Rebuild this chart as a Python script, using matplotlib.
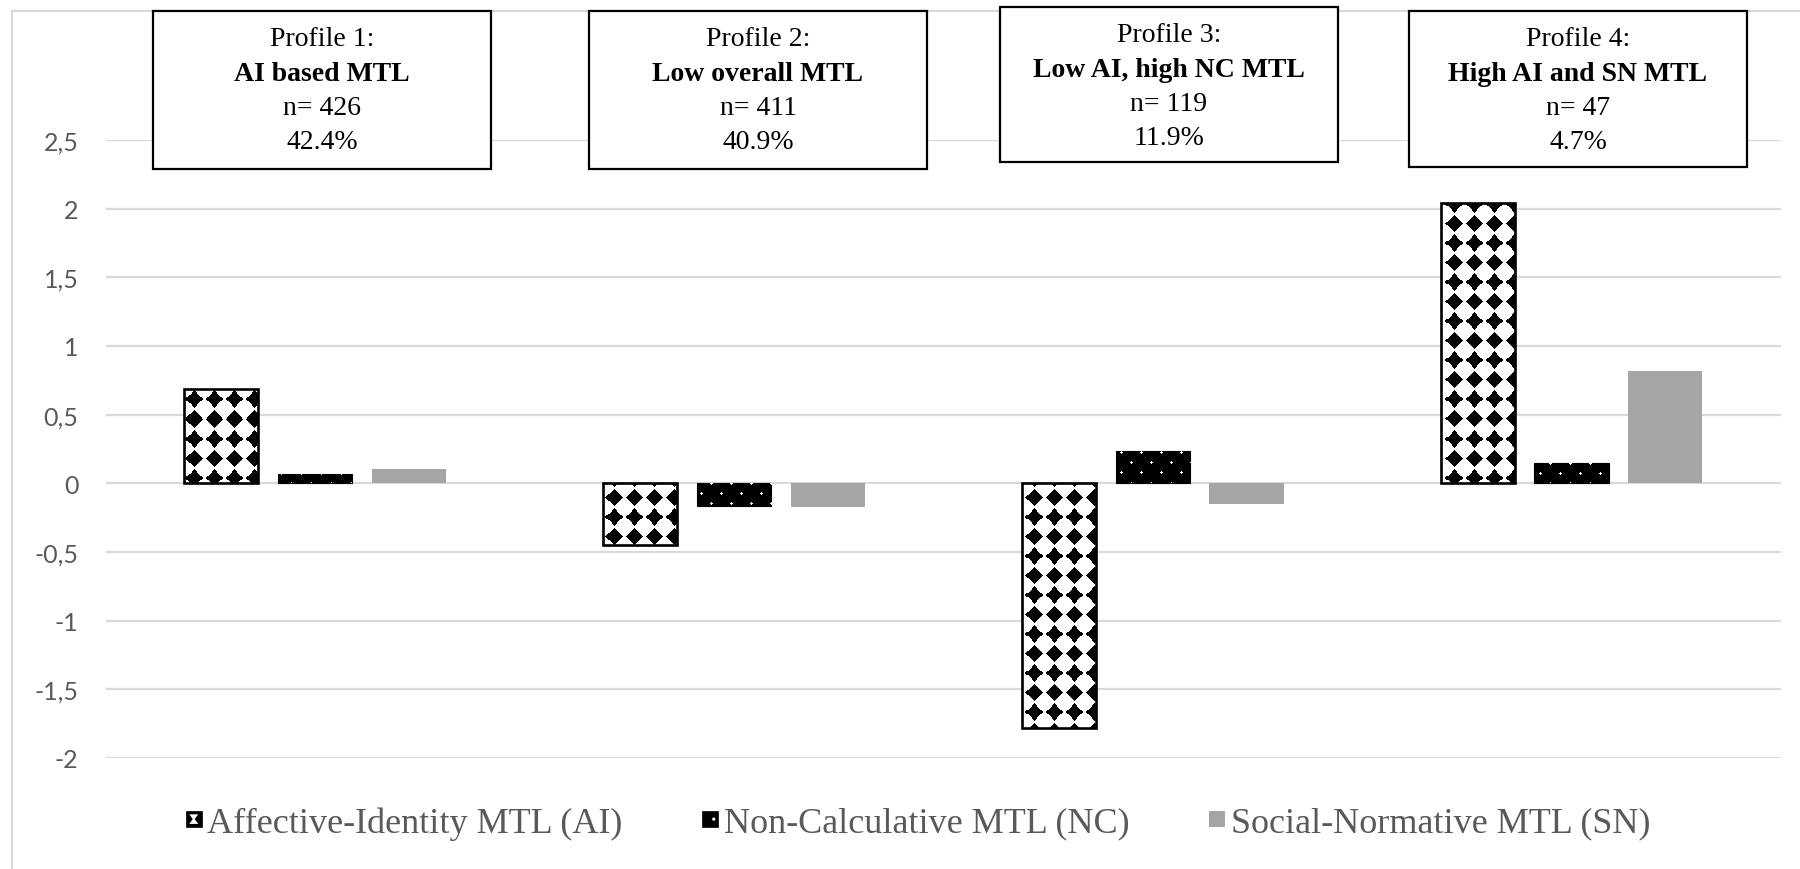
import numpy as np
import matplotlib
matplotlib.use("Agg")
import matplotlib.pyplot as plt
from matplotlib.patches import Rectangle, Polygon, Circle
from matplotlib.legend_handler import HandlerBase
from matplotlib.lines import Line2D
from matplotlib.font_manager import FontProperties

# ---------------- data ----------------
profiles = ["Profile 1", "Profile 2", "Profile 3", "Profile 4"]
ai_values = [0.69, -0.45, -1.78, 2.04]
nc_values = [0.065, -0.165, 0.235, 0.145]
sn_values = [0.105, -0.175, -0.15, 0.82]
series_labels = ["Affective-Identity MTL (AI)", "Non-Calculative MTL (NC)",
                 "Social-Normative MTL (SN)"]
box_titles = ["Profile 1:", "Profile 2:", "Profile 3:", "Profile 4:"]
box_names = ["AI based MTL", "Low overall MTL", "Low AI, high NC MTL", "High AI and SN MTL"]
box_n = ["n= 426", "n= 411", "n= 119", "n= 47"]
box_pct = ["42.4%", "40.9%", "11.9%", "4.7%"]
y_ticks = [-2, -1.5, -1, -0.5, 0, 0.5, 1, 1.5, 2, 2.5]
y_tick_labels = ["-2", "-1,5", "-1", "-0,5", "0", "0,5", "1", "1,5", "2", "2,5"]

# ---------------- layout ----------------
W, H = 1800, 870
fig = plt.figure(figsize=(W / 100, H / 100), dpi=100)
fig.patch.set_facecolor("white")


def fx(px):
    return px / W


def fy(py):
    return 1 - py / H


ax_left, ax_right = 105.5, 1781.0
ax_top, ax_bottom = 141.0, 759.0
ax = fig.add_axes([fx(ax_left), fy(ax_bottom), (ax_right - ax_left) / W,
                   (ax_bottom - ax_top) / H])
XLIM = (-0.5, 3.5)
YLIM = (-2, 2.5)

GRID = "#d9d9d9"
TXT = "#595959"
serif = ["Liberation Serif", "Times New Roman", "DejaVu Serif"]

x = np.arange(len(profiles))
bw = 0.177
off = 0.224

b_ai = ax.bar(x - off, ai_values, bw, facecolor="white", edgecolor="none", zorder=3)
b_nc = ax.bar(x, nc_values, bw, facecolor="black", edgecolor="black", linewidth=0.8, zorder=3)
b_sn = ax.bar(x + off, sn_values, bw, facecolor="#a5a5a5", edgecolor="none", zorder=3)

# ---------------- pattern textures ----------------
aw = int(round(ax_right - ax_left))
ah = int(round(ax_bottom - ax_top))
yy, xx = np.mgrid[0:ah, 0:aw].astype(float)

# AI: black four-point stars on white (white round holes between them)
px_, py_ = 20.0, 19.5
dx = np.abs(((xx - 8 + px_ / 2) % px_) - px_ / 2)
dy = np.abs(((yy - 6 + py_ / 2) % py_) - py_ / 2)
hole = np.hypot(px_ / 2 - dx, py_ / 2 - dy) < 8.3
star = (~hole) & ((dx + dy) < 8.6)
ai_tex = np.zeros((ah, aw, 4))
ai_tex[star] = (0, 0, 0, 1)

# NC: small white dots on black, staggered rows
ry = (yy - 3) / 10.0
ri = np.round(ry)
dyn = (ry - ri) * 10.0
shift = (ri % 2) * 10.0
rx = (xx - 5 - shift) / 20.0
dxn = (rx - np.round(rx)) * 20.0
dots = dxn ** 2 + dyn ** 2 < 1.4 ** 2
nc_tex = np.zeros((ah, aw, 4))
nc_tex[dots] = (1, 1, 1, 1)

for bars, tex in ((b_ai, ai_tex), (b_nc, nc_tex)):
    for patch in bars.patches:
        im = ax.imshow(tex, extent=(XLIM[0], XLIM[1], YLIM[0], YLIM[1]), origin="upper",
                       interpolation="nearest", aspect="auto", zorder=3.5)
        im.set_clip_path(patch)

# outlines for AI bars on top of the pattern
ax.bar(x - off, ai_values, bw, fill=False, edgecolor="black", linewidth=1.9, zorder=4)

ax.set_xlim(*XLIM)
ax.set_ylim(*YLIM)
ax.set_yticks(y_ticks)
ax.set_yticklabels(y_tick_labels, fontfamily="Lato", fontsize=18, color=TXT)
ax.set_xticks([])
ax.tick_params(axis="y", length=0, pad=19.5)
ax.yaxis.grid(True, color=GRID, linewidth=1.6)
ax.set_axisbelow(True)
for s in ax.spines.values():
    s.set_visible(False)

# ---------------- chart-area border (top / left) ----------------
fig.add_artist(Line2D([fx(11.5), 1.0], [fy(11.7), fy(11.7)], color=GRID, lw=1.6,
                      transform=fig.transFigure))
fig.add_artist(Line2D([fx(11.5), fx(11.5)], [fy(11.7), 0.0], color=GRID, lw=1.6,
                      transform=fig.transFigure))

# ---------------- profile boxes ----------------
box_left = [153, 589, 1000, 1409]
box_width = [338, 338, 338, 338]
box_top = [11.7, 11.7, 8.0, 11.7]
box_bottom = [170, 170, 163, 168]
line_offsets = [27.5, 62.5, 96.5, 130.5]
for i in range(len(profiles)):
    l, w, t, b = box_left[i], box_width[i], box_top[i], box_bottom[i]
    fig.add_artist(Rectangle((fx(l), fy(b)), w / W, (b - t) / H, transform=fig.transFigure,
                             facecolor="white", edgecolor="black", linewidth=1.6, zorder=5))
    cx = fx(l + w / 2)
    lines = [(box_titles[i], "normal"), (box_names[i], "bold"),
             (box_n[i], "normal"), (box_pct[i], "normal")]
    for (txt, wt), off_y in zip(lines, line_offsets):
        fig.text(cx, fy(t + off_y), txt, ha="center", va="center", fontfamily=serif,
                 fontsize=20, fontweight=wt, color="black", zorder=6)


# ---------------- legend ----------------
class HandlerSquare(HandlerBase):
    def __init__(self, kind):
        super().__init__()
        self.kind = kind

    def create_artists(self, legend, orig_handle, xdescent, ydescent, width, height,
                       fontsize, trans):
        s = 11.5
        x0 = -xdescent + (width - s) / 2
        y0 = -ydescent + (height - s) / 2
        arts = []
        if self.kind == "ai":
            arts.append(Rectangle((x0, y0), s, s, facecolor="black", edgecolor="black",
                                  lw=0.5, transform=trans))
            pts = [(0.22, 0.8), (0.78, 0.8), (0.56, 0.5), (0.78, 0.2), (0.22, 0.2), (0.44, 0.5)]
            arts.append(Polygon([(x0 + a * s, y0 + c * s) for a, c in pts], closed=True,
                                facecolor="white", edgecolor="none", transform=trans))
        elif self.kind == "nc":
            arts.append(Rectangle((x0, y0), s, s, facecolor="black", edgecolor="black",
                                  lw=0.5, transform=trans))
            arts.append(Circle((x0 + 0.72 * s, y0 + 0.5 * s), 0.1 * s, facecolor="white",
                               edgecolor="none", transform=trans))
        else:
            arts.append(Rectangle((x0, y0), s, s, facecolor="#a5a5a5", edgecolor="none",
                                  transform=trans))
        return arts


h_ai = Rectangle((0, 0), 1, 1)
h_nc = Rectangle((0, 0), 1, 1)
h_sn = Rectangle((0, 0), 1, 1)
fig.legend(handles=[h_ai, h_nc, h_sn], labels=series_labels, ncol=3, loc="center",
           bbox_to_anchor=(fx(918), fy(824)), frameon=False,
           prop=FontProperties(family=serif, size=26), labelcolor=TXT,
           handlelength=0.44, handleheight=0.7, handletextpad=0.16, columnspacing=2.2,
           borderaxespad=0, borderpad=0,
           handler_map={h_ai: HandlerSquare("ai"), h_nc: HandlerSquare("nc"),
                        h_sn: HandlerSquare("sn")})

fig.savefig("out.png", dpi=100)
